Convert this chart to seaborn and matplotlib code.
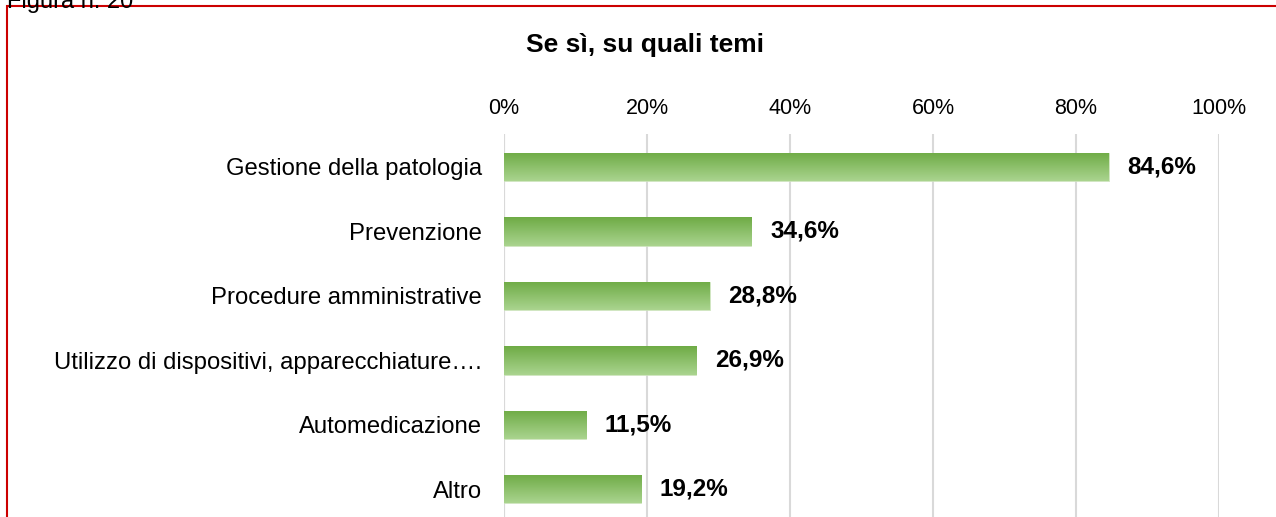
import numpy as np
import pandas as pd
import seaborn as sns
import matplotlib.pyplot as plt
from matplotlib.patches import Rectangle
from matplotlib.colors import LinearSegmentedColormap

categories = ['Gestione della patologia', 'Prevenzione', 'Procedure amministrative',
              'Utilizzo di dispositivi, apparecchiature….', 'Automedicazione', 'Altro']
values = [84.6, 34.6, 28.8, 26.9, 11.5, 19.2]
value_labels = ['84,6%', '34,6%', '28,8%', '26,9%', '11,5%', '19,2%']
ticks = [0, 20, 40, 60, 80, 100]
tick_labels = ['0%', '20%', '40%', '60%', '80%', '100%']

df = pd.DataFrame({'tema': categories, 'perc': values})

sns.set_style('white')
plt.rcParams['font.family'] = ['Liberation Sans', 'DejaVu Sans']
plt.rcParams['text.color'] = 'black'
plt.rcParams['xtick.color'] = 'black'
plt.rcParams['ytick.color'] = 'black'

fig = plt.figure(figsize=(12.76, 5.17), dpi=100)
ax = fig.add_axes([504 / 1276, 0, 715 / 1276, 1 - 134 / 517])

sns.barplot(data=df, x='perc', y='tema', color='#8cc068', width=0.44, ax=ax, zorder=2)

# gradient fill: dark green at top, light green at bottom
cmap = LinearSegmentedColormap.from_list('g', ['#6eab45', '#aad48f'])
grad = np.linspace(0, 1, 256).reshape(-1, 1)
for bar in ax.patches:
    x0, y0 = bar.get_x(), bar.get_y()
    w, h = bar.get_width(), bar.get_height()
    bar.set_facecolor('none')
    bar.set_edgecolor('#c9e2b7')
    bar.set_linewidth(0.6)
    im = ax.imshow(grad, cmap=cmap, aspect='auto', extent=[x0, x0 + w, y0 + h, y0],
                   origin='upper', zorder=2)
    im.set_clip_path(bar)

for i, (v, lab) in enumerate(zip(values, value_labels)):
    ax.text(v + 2.6, i, lab, va='center', ha='left', fontsize=17.5, fontweight='bold', color='black')

ax.set_xlim(0, 100)
ax.set_ylim(5.43, -0.51)
ax.set_xticks(ticks)
ax.set_xticklabels(tick_labels, fontsize=15.5)
ax.xaxis.tick_top()
ax.tick_params(axis='x', length=0, pad=11)
ax.tick_params(axis='y', length=0, pad=16, labelsize=17.2)
ax.set_xlabel('')
ax.set_ylabel('')
ax.grid(axis='x', color='#d9d9d9', linewidth=1.5, zorder=0)
ax.set_axisbelow(True)
for s in ax.spines.values():
    s.set_visible(False)
ax.axvline(0, color='#d9d9d9', linewidth=1.5, zorder=0)

fig.text(645 / 1276, 1 - 45 / 517, 'Se sì, su quali temi', ha='center', va='center',
         fontsize=19, fontweight='bold')
fig.text(7 / 1276, 1 - 2 / 517, 'Figura n. 20', ha='left', va='center', fontsize=17)

fig.add_artist(Rectangle((7 / 1276, -0.1), 1.2, 1 - 6 / 517 + 0.1, transform=fig.transFigure,
                         fill=False, edgecolor='#cc0000', linewidth=1.5))

fig.savefig('out.png', dpi=100)
